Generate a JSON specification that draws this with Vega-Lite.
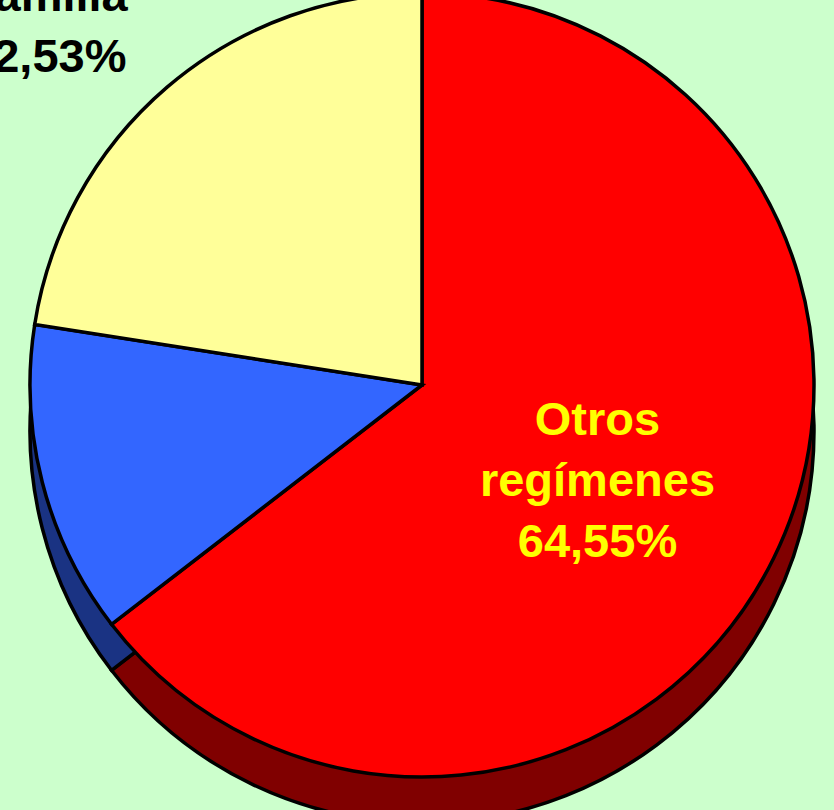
{
  "$schema": "https://vega.github.io/schema/vega-lite/v6.json",
  "autosize": "none",
  "width": 824,
  "height": 770,
  "padding": {"left": 10, "top": 0, "right": 0, "bottom": 40},
  "background": "#CCFFCC",
  "config": {"view": {"stroke": null}, "text": {"font": "Liberation Sans"}},
  "data": {
    "values": [
      {"ord": 1, "name": "Otros regímenes", "value": 64.55, "label": "Otros\nregímenes\n64,55%"},
      {"ord": 2, "name": "Autónomos", "value": 12.92, "label": "Autónomos\n12,92%"},
      {"ord": 3, "name": "Familia", "value": 22.53, "label": "Familia\n22,53%"}
    ]
  },
  "encoding": {
    "theta": {"field": "value", "type": "quantitative", "stack": true},
    "order": {"field": "ord", "type": "quantitative"},
    "detail": {"field": "name", "type": "nominal"}
  },
  "layer": [
    {
      "mark": {"type": "arc", "outerRadius": 392, "yOffset": 46, "stroke": "black", "strokeWidth": 3.5},
      "encoding": {
        "color": {"field": "name", "type": "nominal", "legend": null,
          "scale": {"domain": ["Otros regímenes", "Autónomos", "Familia"], "range": ["#800000", "#1A3383", "#99994D"]}}
      }
    },
    {
      "mark": {"type": "arc", "outerRadius": 392, "stroke": "black", "strokeWidth": 3.5},
      "encoding": {
        "fill": {"field": "name", "type": "nominal", "legend": null,
          "scale": {"domain": ["Otros regímenes", "Autónomos", "Familia"], "range": ["#FF0000", "#3366FF", "#FFFF99"]}}
      }
    },
    {
      "mark": {"type": "text", "radius": 200, "dx": -4, "dy": -52, "fontSize": 47, "fontWeight": "bold", "lineHeight": 61, "lineBreak": "\n", "fill": "#FFFF00", "align": "center", "baseline": "middle"},
      "encoding": {
        "text": {"condition": {"test": "datum.name === 'Otros regímenes'", "field": "label"}, "value": ""}
      }
    },
    {
      "mark": {"type": "text", "radius": 471, "dx": -69, "dy": -30, "fontSize": 47, "fontWeight": "bold", "lineHeight": 61, "lineBreak": "\n", "fill": "black", "align": "center", "baseline": "middle"},
      "encoding": {
        "text": {"condition": {"test": "datum.name === 'Familia'", "field": "label"}, "value": ""}
      }
    },
    {
      "mark": {"type": "text", "radius": 433, "dx": -3, "dy": -23, "fontSize": 47, "fontWeight": "bold", "lineHeight": 61, "lineBreak": "\n", "fill": "black", "align": "right", "baseline": "middle"},
      "encoding": {
        "text": {"condition": {"test": "datum.name === 'Autónomos'", "field": "label"}, "value": ""}
      }
    }
  ],
  "resolve": {"scale": {"color": "independent", "fill": "independent"}}
}
